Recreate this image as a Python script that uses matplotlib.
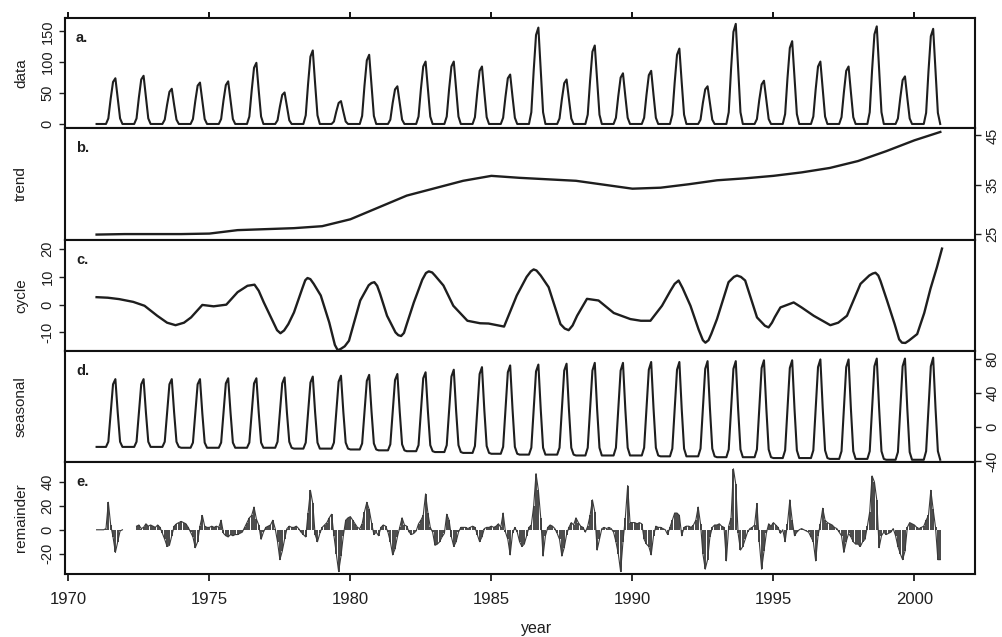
import numpy as np
import matplotlib
matplotlib.use("Agg")
import matplotlib.pyplot as plt

plt.rcParams['font.family'] = ['Liberation Sans', 'DejaVu Sans']

nan = np.nan
start_year = 1971

# monthly observed data, one row per year (Jan..Dec), 1971-2000
data_rows = [
    [0, 0, 0, 0, 0, 9, 41, 68, 74, 41, 9, 0],
    [0, 0, 0, 0, 0, 9, 43, 72, 78, 43, 9, 0],
    [0, 0, 0, 0, 0, 7, 31, 52, 57, 31, 7, 0],
    [0, 0, 0, 0, 0, 8, 37, 62, 67, 37, 8, 0],
    [0, 0, 0, 0, 0, 8, 38, 63, 69, 38, 8, 0],
    [0, 0, 0, 0, 0, 12, 54, 91, 99, 54, 12, 0],
    [0, 0, 0, 0, 0, 6, 28, 47, 51, 28, 6, 0],
    [0, 0, 0, 0, 0, 14, 65, 109, 119, 65, 14, 0],
    [0, 0, 0, 0, 0, 4, 20, 34, 37, 20, 4, 0],
    [0, 0, 0, 0, 0, 13, 62, 103, 112, 62, 13, 0],
    [0, 0, 0, 0, 0, 7, 34, 56, 61, 34, 7, 0],
    [0, 0, 0, 0, 0, 12, 56, 93, 101, 56, 12, 0],
    [0, 0, 0, 0, 0, 12, 56, 93, 101, 56, 12, 0],
    [0, 0, 0, 0, 0, 11, 51, 86, 93, 51, 11, 0],
    [0, 0, 0, 0, 0, 10, 44, 74, 80, 44, 10, 0],
    [0, 0, 0, 0, 0, 19, 86, 144, 156, 86, 19, 0],
    [0, 0, 0, 0, 0, 9, 40, 66, 72, 40, 9, 0],
    [0, 0, 0, 0, 0, 15, 70, 117, 127, 70, 15, 0],
    [0, 0, 0, 0, 0, 10, 45, 75, 82, 45, 10, 0],
    [0, 0, 0, 0, 0, 10, 47, 79, 86, 47, 10, 0],
    [0, 0, 0, 0, 0, 15, 67, 112, 122, 67, 15, 0],
    [0, 0, 0, 0, 0, 7, 34, 56, 61, 34, 7, 0],
    [0, 0, 0, 0, 0, 19, 89, 149, 162, 89, 19, 0],
    [0, 0, 0, 0, 0, 8, 39, 64, 70, 39, 8, 0],
    [0, 0, 0, 0, 0, 16, 74, 123, 134, 74, 16, 0],
    [0, 0, 0, 0, 0, 12, 56, 93, 101, 56, 12, 0],
    [0, 0, 0, 0, 0, 11, 51, 86, 93, 51, 11, 0],
    [0, 0, 0, 0, 0, 19, 87, 145, 158, 87, 19, 0],
    [0, 0, 0, 0, 0, 9, 42, 71, 77, 42, 9, 0],
    [0, 0, 0, 0, 0, 18, 85, 142, 154, 85, 18, 0],
]

# trend (read at the start of each year, plus end of series)
trend_years = [1971, 1972, 1973, 1974, 1975, 1976, 1977, 1978, 1979, 1980,
               1981, 1982, 1983, 1984, 1985, 1986, 1987, 1988, 1989, 1990,
               1991, 1992, 1993, 1994, 1995, 1996, 1997, 1998, 1999, 2000, 2000.92]
trend_values = [24.9, 25.0, 25.0, 25.0, 25.1, 25.8, 26.0, 26.2, 26.6, 28.0,
                30.4, 32.8, 34.3, 35.8, 36.8, 36.4, 36.1, 35.8, 35.0, 34.2,
                34.4, 35.1, 35.9, 36.3, 36.8, 37.5, 38.4, 39.8, 41.8, 44.0, 45.7]

# cycle component
cycle_years = [1971.0, 1971.4, 1971.8, 1972.3, 1972.7, 1973.15, 1973.5, 1973.8, 1974.1, 1974.35,
               1974.75, 1975.15, 1975.6, 1976.0, 1976.35, 1976.6, 1976.75, 1976.93, 1977.25, 1977.4,
               1977.52, 1977.65, 1977.8, 1978.0, 1978.3, 1978.4, 1978.48, 1978.58, 1978.7, 1978.95,
               1979.25, 1979.45, 1979.55, 1979.65, 1979.8, 1979.95, 1980.35, 1980.65, 1980.75, 1980.85,
               1980.95, 1981.05, 1981.3, 1981.6, 1981.7, 1981.8, 1981.9, 1982.0, 1982.25, 1982.55,
               1982.68, 1982.78, 1982.9, 1983.0, 1983.3, 1983.65, 1984.15, 1984.6, 1984.9, 1985.3,
               1985.45, 1985.9, 1986.25, 1986.4, 1986.5, 1986.6, 1986.75, 1987.03, 1987.45, 1987.6,
               1987.74, 1987.88, 1988.04, 1988.39, 1988.8, 1989.34, 1989.93, 1990.3, 1990.64, 1991.05,
               1991.35, 1991.5, 1991.64, 1991.78, 1992.06, 1992.35, 1992.5, 1992.59, 1992.7, 1992.8,
               1993.0, 1993.41, 1993.6, 1993.71, 1993.85, 1994.0, 1994.42, 1994.7, 1994.83, 1994.95,
               1995.05, 1995.25, 1995.72, 1996.0, 1996.43, 1997.02, 1997.3, 1997.61, 1998.09, 1998.4,
               1998.52, 1998.62, 1998.72, 1998.8, 1999.03, 1999.3, 1999.46, 1999.56, 1999.68, 1999.8,
               2000.1, 2000.35, 2000.57, 2000.8, 2000.98]
cycle_values = [2.7, 2.5, 2.0, 1.0, -0.4, -4.0, -6.5, -7.4, -6.5, -4.6,
                -0.1, -0.6, 0.0, 4.5, 6.8, 7.2, 5.0, 0.8, -6.0, -9.2,
                -10.3, -9.3, -7.0, -2.8, 6.0, 8.8, 9.6, 9.2, 7.5, 3.3,
                -6.4, -14.5, -16.4, -16.0, -15.0, -13.0, 1.5, 7.0, 7.8, 8.1,
                6.8, 4.0, -4.0, -10.0, -11.0, -11.3, -10.2, -7.0, 0.8, 9.0,
                11.4, 12.0, 11.6, 10.5, 6.9, -0.4, -5.8, -6.7, -6.8, -7.6,
                -7.9, 3.3, 10.0, 12.0, 12.7, 12.3, 10.5, 6.3, -7.0, -8.6,
                -9.2, -7.5, -4.0, 2.1, 1.5, -3.0, -5.2, -5.8, -5.8, -0.4,
                5.0, 7.5, 8.7, 6.0, -0.4, -9.0, -12.8, -13.7, -12.8, -10.5,
                -5.2, 8.1, 10.0, 10.5, 10.0, 8.7, -4.6, -7.6, -8.2, -6.5,
                -4.5, -1.0, 0.8, -1.0, -4.0, -7.4, -6.5, -4.0, 7.5, 10.5,
                11.2, 11.5, 10.5, 8.5, 1.5, -7.0, -12.5, -13.7, -13.8, -13.0,
                -10.6, -3.0, 5.7, 13.5, 20.2]

# seasonal component, one row per year (Jan..Dec)
seasonal_rows = [
    [-23, -23, -23, -23, -23, -17, 17, 50, 56, 17, -17, -23],
    [-23, -23, -23, -23, -23, -17, 17, 50, 56, 17, -17, -23],
    [-23, -23, -23, -23, -23, -17, 17, 50, 56, 17, -17, -23],
    [-24, -24, -24, -24, -24, -18, 16, 50, 56, 16, -18, -24],
    [-24, -24, -24, -24, -24, -18, 17, 51, 57, 17, -18, -24],
    [-24, -24, -24, -24, -24, -18, 17, 51, 57, 17, -18, -24],
    [-24, -24, -24, -24, -24, -17, 17, 51, 58, 17, -17, -24],
    [-25, -25, -25, -25, -25, -18, 17, 52, 59, 17, -18, -25],
    [-25, -25, -25, -25, -25, -18, 18, 53, 60, 18, -18, -25],
    [-26, -26, -26, -26, -26, -19, 18, 54, 61, 18, -19, -26],
    [-27, -27, -27, -27, -27, -20, 18, 55, 62, 18, -20, -27],
    [-28, -28, -28, -28, -28, -21, 18, 57, 64, 18, -21, -28],
    [-29, -29, -29, -29, -29, -21, 19, 59, 67, 19, -21, -29],
    [-30, -30, -30, -30, -30, -22, 20, 62, 70, 20, -22, -30],
    [-31, -31, -31, -31, -31, -23, 21, 64, 72, 21, -23, -31],
    [-32, -32, -32, -32, -32, -24, 21, 65, 73, 21, -24, -32],
    [-32, -32, -32, -32, -32, -24, 21, 66, 74, 21, -24, -32],
    [-33, -33, -33, -33, -33, -24, 21, 66, 75, 21, -24, -33],
    [-33, -33, -33, -33, -33, -24, 21, 66, 75, 21, -24, -33],
    [-33, -33, -33, -33, -33, -24, 22, 67, 76, 22, -24, -33],
    [-34, -34, -34, -34, -34, -25, 21, 67, 76, 21, -25, -34],
    [-34, -34, -34, -34, -34, -25, 22, 68, 77, 22, -25, -34],
    [-35, -35, -35, -35, -35, -26, 21, 68, 77, 21, -26, -35],
    [-35, -35, -35, -35, -35, -26, 22, 69, 78, 22, -26, -35],
    [-36, -36, -36, -36, -36, -27, 21, 69, 78, 21, -27, -36],
    [-36, -36, -36, -36, -36, -27, 22, 70, 79, 22, -27, -36],
    [-37, -37, -37, -37, -37, -28, 21, 70, 79, 21, -28, -37],
    [-37, -37, -37, -37, -37, -28, 22, 71, 80, 22, -28, -37],
    [-38, -38, -38, -38, -38, -29, 21, 71, 80, 21, -29, -38],
    [-38, -38, -38, -38, -38, -28, 22, 71, 81, 22, -28, -38],
]

# remainder component, one row per year (Jan..Dec)
remainder_rows = [
    [0, 0, 0, 0, 1, 23, 4, -6, -19, -10, -1, 0],
    [nan, nan, nan, nan, nan, 3, 4, 1, 2, 5, 3, 4],
    [3, 2, 4, 2, -3, -8, -14, -13, -5, 3, 5, 6],
    [7, 6, 5, 2, -2, -6, -15, -10, 3, 12, 3, 2],
    [2, 3, 2, 3, 2, 8, -3, -5, -6, -4, -5, -4],
    [-4, -3, -2, 2, 6, 10, 12, 19, 9, 4, -8, -2],
    [2, 3, 4, 8, 1, -10, -25, -18, -8, 1, 3, 2],
    [2, 3, 1, -2, -4, -6, 14, 33, 22, -4, -10, -3],
    [2, 4, 6, 10, 13, -5, -20, -35, -22, -5, 8, 10],
    [11, 8, 5, 2, 1, 5, 15, 23, 17, 6, -4, -2],
    [-5, 2, 4, 3, -2, -10, -21, -16, -6, 2, 10, 4],
    [3, -2, -4, -3, -1, 5, 8, 12, 30, 14, 2, -2],
    [-13, -12, -10, -6, -3, 13, 8, -6, -14, -10, -2, 2],
    [2, 2, 1, 2, 3, 2, -4, -10, -6, 1, 2, 2],
    [3, 2, 3, 5, 2, 14, -2, -8, -21, -3, 2, -2],
    [-10, -14, -12, -5, 2, 4, 20, 47, 33, 10, -22, -5],
    [2, 4, 3, 1, -3, -8, -22, -15, -4, 2, 6, 4],
    [10, 6, 3, 2, -2, 3, 12, 25, 15, -17, -8, 1],
    [2, 1, 2, 1, -2, -10, -20, -35, -10, 10, 37, 6],
    [6, 6, 5, 6, 5, -8, -12, -14, -21, -5, 3, 2],
    [2, 1, 0, -4, 2, 8, 14, 14, 12, -5, 2, 3],
    [3, 2, 4, 8, 19, 5, -20, -33, -25, -6, 2, 4],
    [4, 5, 3, 2, -26, 3, 10, 51, 38, -3, -17, -14],
    [-8, -2, 1, 2, 4, 22, -10, -33, -18, -3, 5, 3],
    [6, 4, 2, -3, 0, -10, 5, 25, 8, -5, -2, 0],
    [1, 0, -1, -2, -6, -10, -26, -5, 5, 18, 8, 6],
    [5, 4, 2, 1, -2, -5, -19, -10, -3, -6, -10, -12],
    [-12, -14, -10, -8, 3, 15, 45, 40, 25, -15, -5, -2],
    [-4, -3, -2, 1, -5, -14, -20, -25, -18, 2, 6, 5],
    [4, 2, 1, 2, 3, 8, 12, 33, 17, 2, -25, -25],
]

panel_names = ["data", "trend", "cycle", "seasonal", "remainder"]
panel_letters = ["a.", "b.", "c.", "d.", "e."]
x_ticks = [1970, 1975, 1980, 1985, 1990, 1995, 2000]
y_ticks = [[0, 50, 100, 150], [25, 35, 45], [-10, 0, 10, 20], [-40, 0, 40, 80], [-20, 0, 20, 40]]
y_limits = [(-6.5, 171.5), (23.8, 46.5), (-16.7, 23.3), (-40.6, 88.8), (-37, 56.7)]
tick_side = ["left", "right", "left", "right", "left"]

data = np.array(data_rows, dtype=float).ravel()
seasonal = np.array(seasonal_rows, dtype=float).ravel()
remainder = np.array(remainder_rows, dtype=float).ravel()
t = start_year + np.arange(data.size) / 12.0

W, H = 1002, 637
fig = plt.figure(figsize=(W / 100, H / 100), dpi=100)
left_px, right_px = 65, 975
edges = [(18, 128), (128, 240), (240, 351), (351, 462), (462, 574)]
axes = []
for (top, bot) in edges:
    ax = fig.add_axes([left_px / W, 1 - bot / H, (right_px - left_px) / W, (bot - top) / H])
    axes.append(ax)

lc = "#1e1e1e"
axes[0].plot(t, data, color=lc, lw=1.5)
axes[1].plot(trend_years, trend_values, color=lc, lw=1.7)
axes[2].plot(cycle_years, cycle_values, color=lc, lw=1.7)
axes[3].plot(t, seasonal, color=lc, lw=1.5)
ok = ~np.isnan(remainder)
axes[4].vlines(t[ok], 0, remainder[ok], color="#2a2a2a", lw=1.2)
axes[4].plot(t, remainder, color="#3a3a3a", lw=0.8)

for i, ax in enumerate(axes):
    ax.set_xlim(1969.88, 2002.15)
    ax.set_ylim(*y_limits[i])
    ax.set_yticks(y_ticks[i])
    ax.set_yticklabels([str(v) for v in y_ticks[i]])
    for sp in ax.spines.values():
        sp.set_linewidth(1.5)
        sp.set_color("#111111")
    if tick_side[i] == "left":
        ax.yaxis.tick_left()
    else:
        ax.yaxis.tick_right()
    ax.tick_params(axis="y", labelrotation=90, labelsize=10.5, length=4, width=1,
                   colors="#1e1e1e")
    for lab in ax.get_yticklabels():
        lab.set_va("center")
    ax.set_xticks(x_ticks)
    if i == 4:
        ax.tick_params(axis="x", bottom=True, labelbottom=True, top=False,
                       labelsize=12, length=5, width=1.3, pad=8, colors="#1e1e1e")
    elif i == 0:
        ax.tick_params(axis="x", bottom=False, labelbottom=False, top=True,
                       labeltop=False, length=4, width=1.3)
    else:
        ax.tick_params(axis="x", bottom=False, labelbottom=False)
    ax.text(0.012, 0.82, panel_letters[i], transform=ax.transAxes,
            fontsize=10.5, fontweight="bold", va="center", ha="left", color="#1e1e1e")
    top, bot = edges[i]
    fig.text(21 / W, 1 - (top + bot) / 2 / H, panel_names[i], rotation=90,
             ha="center", va="center", fontsize=11, color="#1e1e1e")

fig.text(537 / W, 1 - 629 / H, "year", ha="center", va="center", fontsize=11.5,
         color="#1e1e1e")

fig.savefig("out.png", dpi=100)
